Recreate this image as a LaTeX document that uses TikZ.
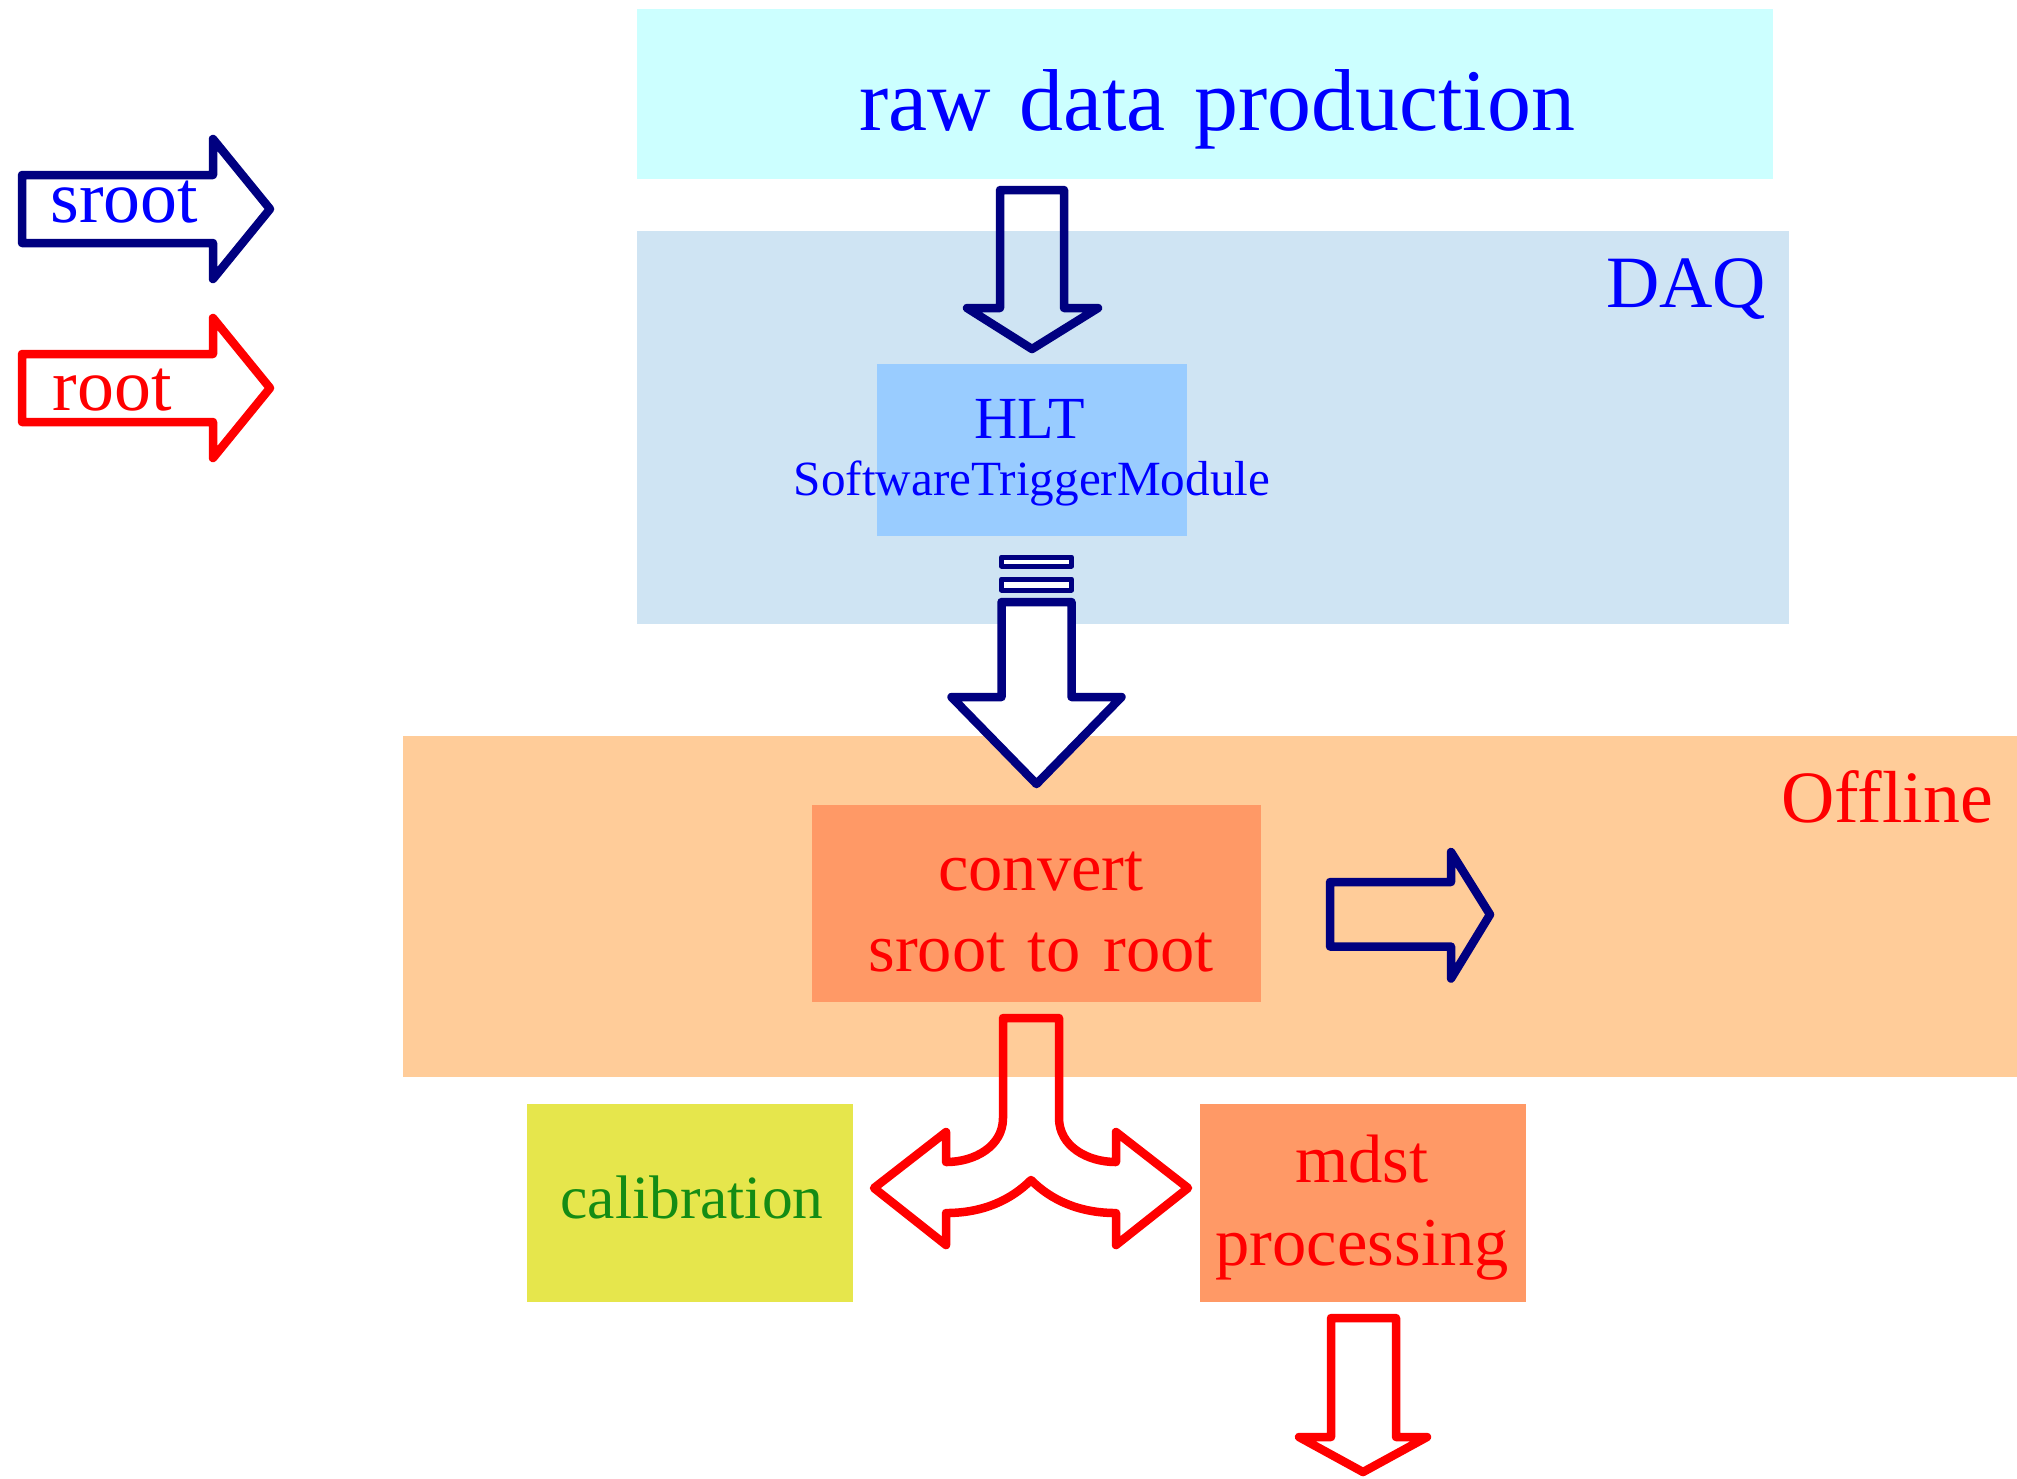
\documentclass[tikz,border=0pt]{standalone}
\usepackage{fontspec}
\setmainfont{Liberation Serif}[WordSpace=1.3]
\usetikzlibrary{calc}

\definecolor{rawfill}{RGB}{204,255,255}
\definecolor{daqfill}{RGB}{207,228,243}
\definecolor{hltfill}{RGB}{153,204,255}
\definecolor{offfill}{RGB}{255,204,153}
\definecolor{stepfill}{RGB}{255,153,102}
\definecolor{calfill}{RGB}{230,230,76}
\definecolor{txtblue}{RGB}{0,0,255}
\definecolor{txtred}{RGB}{255,0,0}
\definecolor{txtgreen}{RGB}{20,140,20}
\definecolor{navyline}{RGB}{0,0,128}
\definecolor{redline}{RGB}{255,0,0}

\tikzset{
	panel/.style={rectangle, inner sep=0pt, outer sep=0pt},
	caption/.style={anchor=base, inner sep=0pt, align=center},
	fatarrow/.style={line width=0.85mm, line join=round},
}

\begin{document}
\begin{tikzpicture}[x=0.1mm, y=-0.1mm]
		\useasboundingbox (0,0) rectangle (2017,1478);

		% boxes
		\node (raw) [panel, fill=rawfill, minimum width=113.6mm, minimum height=17mm] at (1205,94) {};
		\node (daq) [panel, fill=daqfill, minimum width=115.2mm, minimum height=39.3mm] at (1213,427.5) {};
		\node (hlt) [panel, fill=hltfill, minimum width=31mm, minimum height=17.2mm] at (1032,450) {};
		\node (offline) [panel, fill=offfill, minimum width=161.4mm, minimum height=34.1mm] at (1210,906.5) {};
		\node (convert) [panel, fill=stepfill, minimum width=44.9mm, minimum height=19.7mm] at (1036.5,903.5) {};
		\node (calib) [panel, fill=calfill, minimum width=32.6mm, minimum height=19.8mm] at (690,1203) {};
		\node (mdst) [panel, fill=stepfill, minimum width=32.6mm, minimum height=19.8mm] at (1363,1203) {};

		% legend
		\coordinate (leg1) at (22,209);
		\coordinate (leg2) at (22,388);
		\draw[fatarrow, draw=navyline] (leg1) ++(0,-34) -- ++(191,0) -- ++(0,-36) -- ++(57,70) -- ++(-57,70) -- ++(0,-36) -- ++(-191,0) -- cycle;
		\draw[fatarrow, draw=redline] (leg2) ++(0,-34) -- ++(191,0) -- ++(0,-36) -- ++(57,70) -- ++(-57,70) -- ++(0,-36) -- ++(-191,0) -- cycle;
		\node (sroottxt) [caption, anchor=base west, text=txtblue, font=\fontsize{21}{25}\selectfont] at ($(leg1)+(28,13)$) {sroot};
		\node (roottxt) [caption, anchor=base west, text=txtred, font=\fontsize{21}{25}\selectfont] at ($(leg2)+(30,22)$) {root};

		% raw data -> HLT
		\coordinate (a1) at ($(raw.south -| hlt.north)+(0,11)$);
		\draw[fatarrow, draw=navyline] (a1) -- ++(32,0) -- ++(0,118) -- ++(34,0) -- ($(hlt.north)+(0,-15)$) -- ++(-65,-41) -- ++(33,0) -- ++(0,-118) -- cycle;

		% HLT -> convert
		\coordinate (a2) at ($(hlt.south -| convert.north)+(0,21)$);
		\draw[fatarrow, line width=0.5mm, draw=navyline, fill=white] ($(a2)+(-35,0)$) rectangle ++(70,9);
		\draw[fatarrow, line width=0.5mm, draw=navyline, fill=white] ($(a2)+(-35,22)$) rectangle ++(70,11);
		\draw[fatarrow, draw=navyline, fill=white] ($(a2)+(-35,45)$) -- ++(70,0) -- ++(0,95) -- ++(50,0) -- ($(convert.north)+(0,-21)$) -- ++(-85,-87) -- ++(50,0) -- cycle;

		% convert -> out
		\coordinate (a3) at ($(convert.east)+(69,11)$);
		\draw[fatarrow, draw=navyline] (a3) -- ++(0,-32.5) -- ++(121,0) -- ++(0,-30) -- ++(39,62.5) -- ++(-39,64) -- ++(0,-32) -- ++(-121,0) -- cycle;

		% convert -> calibration / mdst
		\coordinate (a4) at ($(convert.south)+(-5.5,16)$);
		\begin{scope}[shift={(a4)}]
			\draw[fatarrow, draw=redline] (28,0) -- (28,100) .. controls (28,128) and (56,144) .. (85,144) -- (85,114) -- (157,170) -- (85,227) -- (85,195) .. controls (48,195) and (20,182) .. (0,162) .. controls (-20,182) and (-48,195) .. (-85,195) -- (-85,227) -- (-157,170) -- (-85,114) -- (-85,144) .. controls (-56,144) and (-28,128) .. (-28,100) -- (-28,0) -- cycle;
		\end{scope}

		% mdst -> down
		\coordinate (a5) at ($(mdst.south)+(0,16)$);
		\draw[fatarrow, draw=redline] (a5) -- ++(33,0) -- ++(0,119) -- ++(31,0) -- ++(-64,35) -- ++(-64,-35) -- ++(32,0) -- ++(0,-119) -- cycle;

		% texts
		\node (rawtxt) [caption, text=txtblue, font=\fontsize{25}{30}\selectfont] at (1217,130) {raw data production};
		\node (daqtxt) [caption, text=txtblue, font=\fontsize{21}{25}\selectfont] at (1686,307) {DAQ};
		\node (hlttxt) [caption, text=txtblue, font=\fontsize{17}{20}\selectfont] at (1030,438) {HLT};
		\node (stmtxt) [caption, text=txtblue, font=\fontsize{14}{16}\selectfont] at (1032,495) {SoftwareTriggerModule};
		\node (offtxt) [caption, text=txtred, font=\fontsize{21}{25}\selectfont] at (1887,822) {Offline};
		\node (convtxt) [caption, text=txtred, font=\fontsize{19.5}{22.8}\selectfont] at (1041,971) {convert\\sroot to root};
		\node (calibtxt) [caption, text=txtgreen, font=\fontsize{17.5}{21}\selectfont] at (692,1218) {calibration};
		\node (mdsttxt) [caption, text=txtred, font=\fontsize{19.5}{23.6}\selectfont] at (1362,1265) {mdst\\processing};
	\end{tikzpicture}
\end{document}
